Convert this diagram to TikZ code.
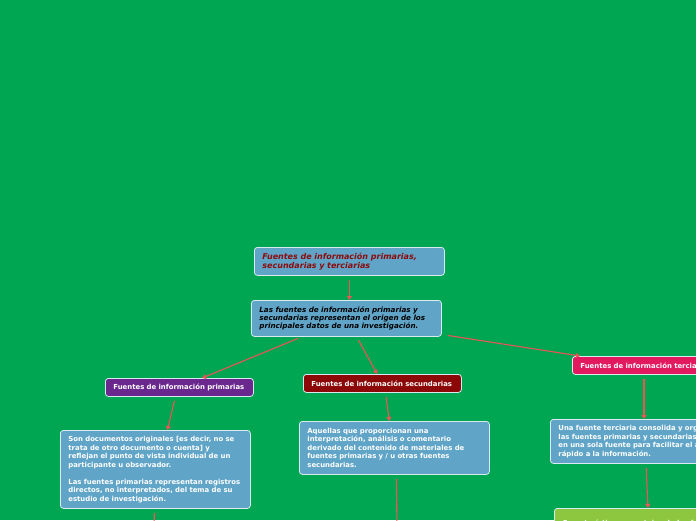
\documentclass[tikz,border=0pt]{standalone}
\usepackage{fontspec}
\setmainfont{DejaVu Sans}
\usetikzlibrary{arrows.meta}
\definecolor{bggreen}{RGB}{0,166,81}
\definecolor{steel}{RGB}{96,165,200}
\definecolor{boxline}{RGB}{215,235,240}
\definecolor{purp}{RGB}{106,40,143}
\definecolor{dred}{RGB}{140,8,8}
\definecolor{pinkred}{RGB}{227,25,96}
\definecolor{ygreen}{RGB}{141,198,63}
\definecolor{titlered}{RGB}{140,10,10}
\definecolor{conn}{RGB}{236,84,88}
\tikzset{
  box/.style={draw=boxline, line width=0.8pt, rounded corners=3pt, anchor=north west,
    inner xsep=8pt, inner ysep=0pt, align=left, text=white,
    font=\bfseries\fontsize{6.9}{8.5}\selectfont},
  bluebox/.style={box, fill=steel},
  labelbox/.style={box, inner xsep=8pt},
  conn/.style={draw=conn, line width=1.1pt, shorten <=4pt, -{Triangle[width=5pt,length=4pt]}},
  connfree/.style={draw=conn, line width=1.1pt, shorten <=4pt},
}
\begin{document}
\begin{tikzpicture}[x=1pt,y=-1pt]
\clip (0,0) rectangle (696,520);
\fill[bggreen] (0,0) rectangle (696,520);

\node[bluebox, text width=174pt, minimum height=28pt, text=titlered,
  font=\bfseries\itshape\fontsize{8.0}{9}\selectfont] (title) at (254,247)
  {\mbox{Fuentes de información primarias,}\\\mbox{secundarias y terciarias}};
\node[bluebox, text width=174pt, minimum height=36pt, text=black,
  font=\bfseries\itshape\fontsize{7.2}{8}\selectfont] (main) at (251,300)
  {Las fuentes de información primarias y\\secundarias representan el origen de los\\principales datos de una investigación.};

\node[labelbox, fill=purp, text width=132pt, minimum height=18pt] (prim) at (105,378)
  {Fuentes de información primarias};
\node[labelbox, fill=dred, text width=142pt, minimum height=18pt] (sec) at (303,374)
  {Fuentes de información secundarias};
\node[labelbox, fill=pinkred, text width=170pt, minimum height=18pt] (terc) at (572,356)
  {Fuentes de información terciarias};

\node[bluebox, text width=174pt, minimum height=78pt] (pd) at (60,430)
  {Son documentos originales [es decir, no se\\trata de otro documento o cuenta] y\\reflejan el punto de vista individual de un\\participante u observador.\\[8.5pt]Las fuentes primarias representan registros\\directos, no interpretados, del tema de su\\estudio de investigación.};
\node[bluebox, text width=174pt, minimum height=53pt] (sd) at (299,421)
  {Aquellas que proporcionan una\\interpretación, análisis o comentario\\derivado del contenido de materiales de\\fuentes primarias y / u otras fuentes\\secundarias.};
\node[bluebox, text width=220pt, minimum height=44pt] (td) at (550,419)
  {Una fuente terciaria consolida y organiza\\las fuentes primarias y secundarias\\en una sola fuente para facilitar el acceso\\rápido a la información.};
\node[box, fill=ygreen, text width=240pt, minimum height=30pt, anchor=north west,
  inner ysep=3pt, align=left] (green) at (554,508)
  {Características y ventajas de las fuentes terciarias\\[40pt]};

\coordinate (pdend) at (154,530);
\coordinate (sdend) at (397,530);

\draw[conn] (title.south) -- (title.south |- main.north);
\draw[conn] (main) -- (prim);
\draw[conn] (main) -- (sec);
\draw[conn] ([xshift=2pt,yshift=2pt]main.south east) -- ([xshift=8pt]terc.north west);
\draw[conn] ([xshift=-4pt]prim.south) -- ([xshift=12pt]pd.north);
\draw[conn] ([xshift=3pt]sec.south) -- ([xshift=-5pt]sd.north);
\draw[conn] ([xshift=72pt]terc.south west) -- ([xshift=94pt]td.north west);
\draw[conn] ([xshift=96pt]td.south west) -- ([xshift=94pt]green.north west);
\draw[connfree] ([xshift=-1pt]pd.south) -- (pdend);
\draw[connfree] ([xshift=2pt]sd.south) -- (sdend);
\end{tikzpicture}
\end{document}
